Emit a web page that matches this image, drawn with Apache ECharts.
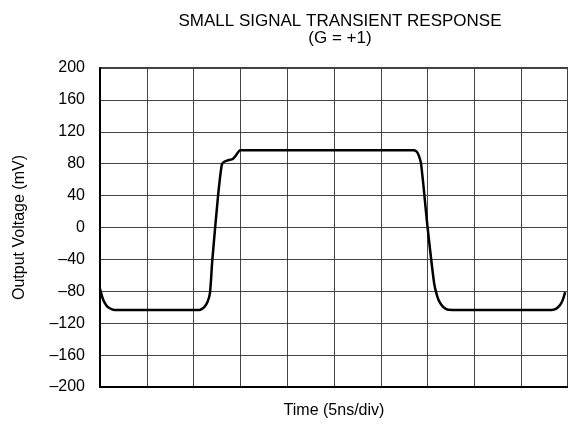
<!DOCTYPE html>
<html>
<head>
<meta charset="utf-8">
<script src="https://cdn.jsdelivr.net/npm/echarts@6/dist/echarts.min.js"></script>
<style>html,body{margin:0;padding:0;background:#fff}#c{width:568px;height:424px}</style>
</head>
<body>
<div id="c"></div>
<script>
// Time in ns (5 ns per division), output in mV
const timeNs = [0, 0.35, 0.7, 1.0, 1.4, 2.5, 6, 10.6, 10.9, 11.2, 11.5, 11.75, 12.0, 12.6, 13.0, 13.2, 13.6, 14.2, 14.5, 15.0, 20, 28, 33.5, 33.8, 34.0, 34.3, 35.0, 35.7, 36.0, 36.3, 36.7, 37.2, 40, 45, 48.2, 48.7, 49.1, 49.4, 49.7];
const outputMv = [-77, -91, -98, -101, -103, -103.5, -103.5, -103.5, -102, -99, -93, -82, -41, 38, 78, 82, 84, 86, 90, 97, 97, 97, 97, 95.5, 92, 80, 0, -70, -85, -94, -100, -103, -103.5, -103.5, -103.5, -102, -98, -92, -81];
const yTicks = [-200, -160, -120, -80, -40, 0, 40, 80, 120, 160, 200];
const titleText = 'SMALL SIGNAL TRANSIENT RESPONSE\n(G = +1)';

const chart = echarts.init(document.getElementById('c'), null, {renderer: 'canvas'});
const FONT = 'Liberation Sans, Arial, sans-serif';
chart.setOption({
  animation: false,
  backgroundColor: '#fff',
  title: {
    text: titleText,
    left: 335, top: 8, textAlign: 'center',
    textStyle: {fontFamily: FONT, fontWeight: 'normal', fontSize: 17, color: '#000', lineHeight: 17}
  },
  grid: {left: 100, top: 68, width: 471, height: 319, show: true, borderColor: '#000', borderWidth: 1.5, containLabel: false},
  xAxis: {
    type: 'value', min: 0, max: 50, interval: 5,
    name: 'Time (5ns/div)', nameLocation: 'middle', nameGap: 16,
    nameTextStyle: {fontFamily: FONT, fontSize: 16, color: '#000', verticalAlign: 'top'},
    axisLine: {show: true, onZero: false, lineStyle: {color: '#000', width: 2}},
    axisTick: {show: false},
    axisLabel: {show: false},
    splitLine: {show: true, lineStyle: {color: '#444', width: 1}}
  },
  yAxis: {
    type: 'value', min: yTicks[0], max: yTicks[yTicks.length - 1], interval: 40,
    name: 'Output Voltage (mV)', nameLocation: 'middle', nameGap: 72,
    nameTextStyle: {fontFamily: FONT, fontSize: 16, color: '#000'},
    axisLine: {show: true, onZero: false, lineStyle: {color: '#000', width: 2}},
    axisTick: {show: false},
    axisLabel: {
      fontFamily: FONT, fontSize: 16, color: '#000', margin: 15,
      formatter: v => String(v).replace('-', '\u2013')
    },
    splitLine: {show: true, lineStyle: {color: '#444', width: 1}}
  },
  series: [{
    type: 'line',
    data: timeNs.map((t, i) => [t, outputMv[i]]),
    showSymbol: false,
    smooth: 0.25,
    lineStyle: {color: '#000', width: 2.5},
    clip: true
  }]
});
</script>
</body>
</html>
